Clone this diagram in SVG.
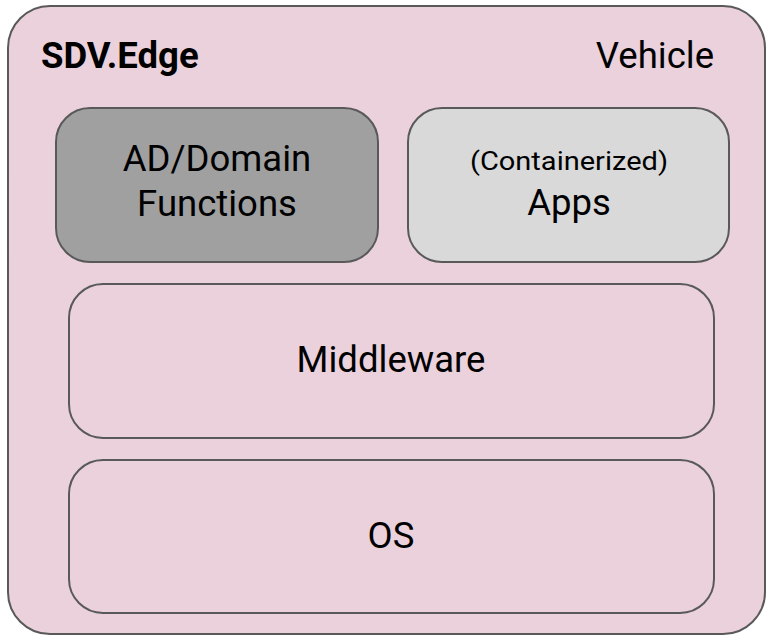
<svg xmlns="http://www.w3.org/2000/svg" width="766" height="636" viewBox="0 0 766 636">
<style>
.box{stroke:#595959;stroke-width:2}
.t{font-family:Roboto,"Liberation Sans",sans-serif;fill:#000;text-anchor:middle;font-size:36.5px}
.s{font-size:26px}
</style>
<rect width="766" height="636" fill="#ffffff"/>
<g id="vehicle">
<rect class="box" x="8" y="6" width="757" height="628" rx="42" ry="42" fill="#ead1dc"/>
<text class="t" x="41" y="68" style="text-anchor:start;font-weight:bold">SDV.Edge</text>
<text class="t" x="714" y="68" style="text-anchor:end">Vehicle</text>
</g>
<g id="ad">
<rect class="box" x="56" y="108" width="322" height="154" rx="34" ry="34" fill="#a0a0a0"/>
<text class="t" x="217" y="171">AD/Domain</text>
<text class="t" x="217" y="216">Functions</text>
</g>
<g id="apps">
<rect class="box" x="408" y="108" width="321" height="154" rx="34" ry="34" fill="#d9d9d9"/>
<text class="t s" x="569" y="170" textLength="198" lengthAdjust="spacingAndGlyphs">(Containerized)</text>
<text class="t" x="569" y="215">Apps</text>
</g>
<g id="middleware">
<rect class="box" x="69" y="284" width="645" height="154" rx="34" ry="34" fill="#ead1dc"/>
<text class="t" x="391" y="372">Middleware</text>
</g>
<g id="os">
<rect class="box" x="69" y="460" width="645" height="153" rx="34" ry="34" fill="#ead1dc"/>
<text class="t" x="391" y="548">OS</text>
</g>
<g id="connectors"/>
</svg>
